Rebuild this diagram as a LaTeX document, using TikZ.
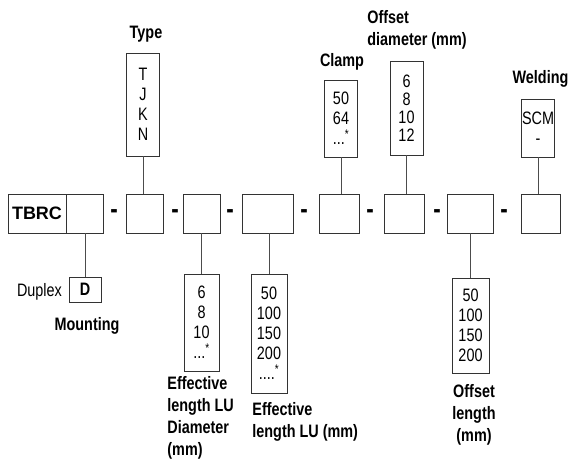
\documentclass[tikz,border=0pt]{standalone}
\usepackage{fontspec}
\setmainfont[FakeStretch=0.8]{Liberation Sans}
\newfontfamily\tbrcfont{Liberation Sans}

\begin{document}
\begin{tikzpicture}[x=1pt, y=-1pt, line width=0.8pt,
  every node/.style={font=\fontsize{18}{20}\selectfont},
  mainbox/.style={draw=black!80, minimum height=39, inner sep=0},
  optbox/.style={draw=black!80, align=center, inner sep=0, minimum width=33},
  caption/.style={font=\fontsize{18}{22}\selectfont\bfseries, inner sep=0},
  sepmark/.style={font=\fontsize{28}{28}\selectfont\bfseries, inner sep=0},
  link/.style={draw=black!70}]
\useasboundingbox (0,0) rectangle (569,459);

% The code row
\node[mainbox, minimum width=58, font=\fontsize{18}{20}\selectfont\tbrcfont\bfseries] (tbrc) at (37,213.5) {TBRC};
\node[mainbox, minimum width=37] (mnt) at (84.5,213.5) {};
\node[mainbox, minimum width=37] (typ) at (144.5,213.5) {};
\node[mainbox, minimum width=37] (dia) at (201.5,213.5) {};
\node[mainbox, minimum width=51] (len) at (267.5,213.5) {};
\node[mainbox, minimum width=40] (clp) at (339,213.5) {};
\node[mainbox, minimum width=40] (ofd) at (404,213.5) {};
\node[mainbox, minimum width=46] (ofl) at (470,213.5) {};
\node[mainbox, minimum width=39] (wld) at (540.5,213.5) {};

% The separators
\foreach \x [count=\i] in {114,175,230,304,370,437,504}
  \node[sepmark] (sep\i) at (\x,214) {-};

% Options above
\node[optbox, minimum height=103] (typopt) at (143,104.5) {T\\J\\K\\N};
\node[caption] (typcap) at (146,34) {Type};
\node[optbox, minimum height=77] (clpopt) at (341,118.5) {50\\64\\...\textsuperscript{*}};
\node[caption] (clpcap) at (342,62) {Clamp};
\node[optbox, minimum height=94, font=\fontsize{18}{18}\selectfont] (ofdopt) at (406.5,108) {6\\8\\10\\12};
\node[caption, anchor=west, align=left] (ofdcap) at (367,30) {Offset\\diameter (mm)};
\node[optbox, minimum height=58] (wldopt) at (538,128) {SCM\\-};
\node[caption] (wldcap) at (540.5,79) {Welding};

% Options below
\node[optbox, minimum width=32, minimum height=25, font=\fontsize{18}{20}\selectfont\bfseries] (mntopt) at (85,289.5) {D};
\node[inner sep=0] (mntval) at (39.5,292) {Duplex};
\node[caption] (mntcap) at (87,326) {Mounting};
\node[optbox, minimum width=35, minimum height=97] (diaopt) at (201.5,322.5) {6\\8\\10\\...\textsuperscript{*}};
\node[caption, anchor=west, align=left] (diacap) at (167,417.5) {Effective\\length LU\\Diameter\\(mm)};
\node[optbox, minimum width=36, minimum height=119] (lenopt) at (269,333.5) {50\\100\\150\\200\\....\textsuperscript{*}};
\node[caption, anchor=west, align=left] (lencap) at (252,422) {Effective\\length LU (mm)};
\node[optbox, minimum width=37, minimum height=95] (oflopt) at (470.5,325.5) {50\\100\\150\\200};
\node[caption, align=center] (oflcap) at (474,415) {Offset\\length\\(mm)};

% Connectors
\draw[link] (typopt.south) -- (typopt.south |- typ.north);
\draw[link] (clpopt.south) -- (clpopt.south |- clp.north);
\draw[link] (ofdopt.south) -- (ofdopt.south |- ofd.north);
\draw[link] (wldopt.south) -- (wldopt.south |- wld.north);
\draw[link] (mntopt.north) -- (mntopt.north |- mnt.south);
\draw[link] (diaopt.north) -- (diaopt.north |- dia.south);
\draw[link] (lenopt.north) -- (lenopt.north |- len.south);
\draw[link] (oflopt.north) -- (oflopt.north |- ofl.south);

\end{tikzpicture}
\end{document}
